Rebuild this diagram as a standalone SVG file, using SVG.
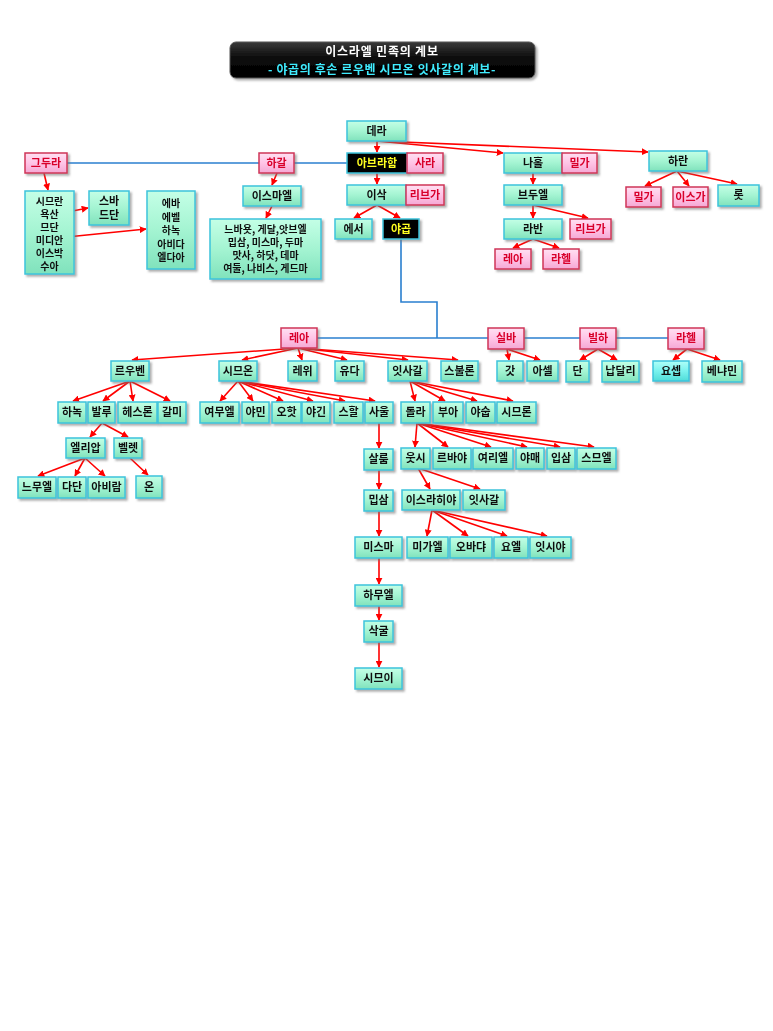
<svg xmlns="http://www.w3.org/2000/svg" width="773" height="1031" viewBox="0 0 773 1031">
<style>
text{font-family:"Noto Sans CJK KR","Noto Sans",sans-serif;font-weight:bold;font-size:11px;text-anchor:middle;fill:#111}
.m text{font-size:10px}
.g rect{fill:url(#gg);stroke:#3cc4dc;stroke-width:1.5}
.c rect{fill:url(#cg);stroke:#3cc4dc;stroke-width:1.5}
.p rect{fill:url(#pg);stroke:#d03458;stroke-width:1.5}
.p text{fill:#d8002c}
.k rect{fill:#000;stroke:#3cc4dc;stroke-width:1.5}
.k text{fill:#ffff20}
.n{filter:url(#sh)}
.r{stroke:#ff0000;stroke-width:1.6;fill:none;marker-end:url(#ah)}
.b{stroke:#2a7fcf;stroke-width:1.6;fill:none}
</style>
<defs>
<linearGradient id="gg" x1="0" y1="0" x2="0" y2="1"><stop offset="0" stop-color="#c4ffe6"/><stop offset="0.5" stop-color="#a4f4d2"/><stop offset="1" stop-color="#80e2bc"/></linearGradient>
<linearGradient id="cg" x1="0" y1="0" x2="0" y2="1"><stop offset="0" stop-color="#b0fff8"/><stop offset="0.5" stop-color="#7af2ee"/><stop offset="1" stop-color="#50dcd8"/></linearGradient>
<linearGradient id="pg" x1="0" y1="0" x2="0" y2="1"><stop offset="0" stop-color="#ffe0f2"/><stop offset="0.5" stop-color="#ffc4e6"/><stop offset="1" stop-color="#f4a8d4"/></linearGradient>
<linearGradient id="tg" x1="0" y1="0" x2="0" y2="1"><stop offset="0" stop-color="#3a3a3a"/><stop offset="0.45" stop-color="#0a0a0a"/><stop offset="1" stop-color="#000"/></linearGradient>
<filter id="sh" x="-20%" y="-20%" width="150%" height="160%"><feDropShadow dx="2" dy="2" stdDeviation="1" flood-color="#777" flood-opacity="0.6"/></filter>
<marker id="ah" viewBox="0 0 10 10" refX="9" refY="5" markerWidth="7" markerHeight="7" markerUnits="userSpaceOnUse" orient="auto"><path d="M0,0 L10,5 L0,10 z" fill="#ff0000"/></marker>
</defs>
<rect width="773" height="1031" fill="#fff"/>
<g id="title" filter="url(#sh)">
<rect x="230" y="42" width="305" height="36" rx="6" fill="url(#tg)" stroke="#555" stroke-width="1"/>
<text x="382" y="56" style="fill:#fff;font-size:12px;letter-spacing:0.8px">이스라엘 민족의 계보</text>
<text x="382" y="74" style="fill:#40ecff;font-size:12px;letter-spacing:0.6px">- 야곱의 후손 르우벤 시므온 잇사갈의 계보-</text>
</g>
<g id="connectors">
<line class="b" x1="67" y1="163" x2="347" y2="163"/>
<polyline class="b" points="401,239 401,302 437,302 437,338"/>
<line class="b" x1="317" y1="338" x2="668" y2="338"/>
<line class="r" x1="377" y1="141" x2="377" y2="152"/>
<line class="r" x1="377" y1="141" x2="503" y2="153"/>
<line class="r" x1="377" y1="141" x2="648" y2="152"/>
<line class="r" x1="377" y1="173" x2="377" y2="184"/>
<line class="r" x1="377" y1="205" x2="354" y2="218"/>
<line class="r" x1="377" y1="205" x2="400" y2="218"/>
<line class="r" x1="533" y1="173" x2="533" y2="184"/>
<line class="r" x1="533" y1="205" x2="533" y2="218"/>
<line class="r" x1="533" y1="205" x2="588" y2="218"/>
<line class="r" x1="533" y1="239" x2="513" y2="248"/>
<line class="r" x1="533" y1="239" x2="559" y2="248"/>
<line class="r" x1="677" y1="171" x2="645" y2="186"/>
<line class="r" x1="677" y1="171" x2="689" y2="186"/>
<line class="r" x1="677" y1="171" x2="737" y2="184"/>
<line class="r" x1="44" y1="173" x2="48" y2="190"/>
<line class="r" x1="62" y1="213" x2="88" y2="208"/>
<line class="r" x1="67" y1="237" x2="146" y2="229"/>
<line class="r" x1="277" y1="173" x2="272" y2="185"/>
<line class="r" x1="272" y1="206" x2="266" y2="218"/>
<line class="r" x1="298" y1="348" x2="132" y2="360"/>
<line class="r" x1="298" y1="348" x2="242" y2="360"/>
<line class="r" x1="298" y1="348" x2="302" y2="360"/>
<line class="r" x1="298" y1="348" x2="347" y2="360"/>
<line class="r" x1="298" y1="348" x2="408" y2="360"/>
<line class="r" x1="298" y1="348" x2="458" y2="360"/>
<line class="r" x1="507" y1="349" x2="509" y2="360"/>
<line class="r" x1="507" y1="349" x2="540" y2="360"/>
<line class="r" x1="598" y1="349" x2="580" y2="360"/>
<line class="r" x1="598" y1="349" x2="617" y2="360"/>
<line class="r" x1="687" y1="349" x2="673" y2="360"/>
<line class="r" x1="687" y1="349" x2="720" y2="360"/>
<line class="r" x1="130" y1="381" x2="73" y2="401"/>
<line class="r" x1="130" y1="381" x2="103" y2="401"/>
<line class="r" x1="130" y1="381" x2="133" y2="401"/>
<line class="r" x1="130" y1="381" x2="170" y2="401"/>
<line class="r" x1="102" y1="423" x2="90" y2="437"/>
<line class="r" x1="102" y1="423" x2="128" y2="437"/>
<line class="r" x1="85" y1="458" x2="38" y2="476"/>
<line class="r" x1="85" y1="458" x2="75" y2="476"/>
<line class="r" x1="85" y1="458" x2="105" y2="476"/>
<line class="r" x1="130" y1="458" x2="148" y2="475"/>
<line class="r" x1="238" y1="381" x2="220" y2="401"/>
<line class="r" x1="238" y1="381" x2="253" y2="401"/>
<line class="r" x1="238" y1="381" x2="283" y2="401"/>
<line class="r" x1="238" y1="381" x2="313" y2="401"/>
<line class="r" x1="238" y1="381" x2="345" y2="401"/>
<line class="r" x1="238" y1="381" x2="375" y2="401"/>
<line class="r" x1="379" y1="423" x2="379" y2="448"/>
<line class="r" x1="379" y1="470" x2="379" y2="489"/>
<line class="r" x1="379" y1="511" x2="379" y2="536"/>
<line class="r" x1="379" y1="558" x2="379" y2="584"/>
<line class="r" x1="379" y1="606" x2="379" y2="620"/>
<line class="r" x1="379" y1="642" x2="379" y2="667"/>
<line class="r" x1="410" y1="381" x2="415" y2="401"/>
<line class="r" x1="410" y1="381" x2="445" y2="401"/>
<line class="r" x1="410" y1="381" x2="477" y2="401"/>
<line class="r" x1="410" y1="381" x2="513" y2="401"/>
<line class="r" x1="417" y1="423" x2="415" y2="447"/>
<line class="r" x1="417" y1="423" x2="448" y2="447"/>
<line class="r" x1="417" y1="423" x2="491" y2="447"/>
<line class="r" x1="417" y1="423" x2="527" y2="447"/>
<line class="r" x1="417" y1="423" x2="560" y2="447"/>
<line class="r" x1="417" y1="423" x2="594" y2="447"/>
<line class="r" x1="418" y1="468" x2="430" y2="489"/>
<line class="r" x1="418" y1="468" x2="480" y2="489"/>
<line class="r" x1="432" y1="510" x2="427" y2="536"/>
<line class="r" x1="432" y1="510" x2="468" y2="536"/>
<line class="r" x1="432" y1="510" x2="507" y2="536"/>
<line class="r" x1="432" y1="510" x2="547" y2="536"/>
</g>
<g id="dera" class="n g"><rect x="347" y="121" width="59" height="20"/><text x="376.5" y="135">데라</text></g>
<g id="abraham" class="n k"><rect x="347" y="153" width="60" height="20"/><text x="377" y="167">아브라함</text></g>
<g id="sarah" class="n p"><rect x="407" y="153" width="36" height="20"/><text x="425" y="167">사라</text></g>
<g id="isaac" class="n g"><rect x="347" y="185" width="59" height="20"/><text x="376.5" y="199">이삭</text></g>
<g id="rebekah" class="n p"><rect x="406" y="185" width="38" height="20"/><text x="425" y="199">리브가</text></g>
<g id="esau" class="n g"><rect x="335" y="219" width="37" height="20"/><text x="353.5" y="233">에서</text></g>
<g id="jacob" class="n k"><rect x="383" y="219" width="36" height="20"/><text x="401" y="233">야곱</text></g>
<g id="nahor" class="n g"><rect x="504" y="153" width="58" height="20"/><text x="533" y="167">나홀</text></g>
<g id="milcah1" class="n p"><rect x="562" y="153" width="35" height="20"/><text x="579.5" y="167">밀가</text></g>
<g id="bethuel" class="n g"><rect x="504" y="185" width="58" height="20"/><text x="533" y="199">브두엘</text></g>
<g id="laban" class="n g"><rect x="504" y="219" width="58" height="20"/><text x="533" y="233">라반</text></g>
<g id="rebekah2" class="n p"><rect x="570" y="219" width="41" height="20"/><text x="590.5" y="233">리브가</text></g>
<g id="leah1" class="n p"><rect x="495" y="249" width="36" height="20"/><text x="513" y="263">레아</text></g>
<g id="rachel1" class="n p"><rect x="543" y="249" width="36" height="20"/><text x="561" y="263">라헬</text></g>
<g id="haran" class="n g"><rect x="649" y="151" width="58" height="20"/><text x="678" y="165">하란</text></g>
<g id="milcah2" class="n p"><rect x="626" y="187" width="35" height="20"/><text x="643.5" y="201">밀가</text></g>
<g id="iscah" class="n p"><rect x="673" y="187" width="35" height="20"/><text x="690.5" y="201">이스가</text></g>
<g id="lot" class="n g"><rect x="718" y="185" width="41" height="21"/><text x="738.5" y="199">롯</text></g>
<g id="keturah" class="n p"><rect x="25" y="153" width="42" height="20"/><text x="46" y="167">그두라</text></g>
<g id="hagar" class="n p"><rect x="259" y="153" width="35" height="20"/><text x="276.5" y="167">하갈</text></g>
<g id="keturahsons" class="n g m"><rect x="25" y="191" width="49" height="83"/><text x="49.5" y="205">시므란<tspan x="49.5" y="218">욕산</tspan><tspan x="49.5" y="231">므단</tspan><tspan x="49.5" y="244">미디안</tspan><tspan x="49.5" y="257">이스박</tspan><tspan x="49.5" y="270">수아</tspan></text></g>
<g id="sheba" class="n g"><rect x="89" y="191" width="40" height="34"/><text x="109" y="205">스바<tspan x="109" y="219">드단</tspan></text></g>
<g id="ephah" class="n g m"><rect x="147" y="191" width="48" height="78"/><text x="171" y="207">에바<tspan x="171" y="220.5">에벨</tspan><tspan x="171" y="234">하녹</tspan><tspan x="171" y="247.5">아비다</tspan><tspan x="171" y="261">엘다아</tspan></text></g>
<g id="ishmael" class="n g"><rect x="243" y="186" width="58" height="20"/><text x="272" y="200">이스마엘</text></g>
<g id="ishmaelsons" class="n g m"><rect x="210" y="219" width="111" height="60"/><text x="265.5" y="233">느바욧, 게달,앗브엘<tspan x="265.5" y="246">밉삼, 미스마, 두마</tspan><tspan x="265.5" y="259">맛사, 하닷, 데마</tspan><tspan x="265.5" y="272">여둘, 나비스, 게드마</tspan></text></g>
<g id="leah" class="n p"><rect x="281" y="328" width="36" height="20"/><text x="299" y="342">레아</text></g>
<g id="zilpah" class="n p"><rect x="488" y="328" width="36" height="21"/><text x="506" y="342">실바</text></g>
<g id="bilhah" class="n p"><rect x="580" y="328" width="36" height="21"/><text x="598" y="342">빌하</text></g>
<g id="rachel" class="n p"><rect x="668" y="328" width="36" height="21"/><text x="686" y="342">라헬</text></g>
<g id="reuben" class="n g"><rect x="111" y="361" width="38" height="20"/><text x="130" y="375">르우벤</text></g>
<g id="simeon" class="n g"><rect x="219" y="361" width="38" height="20"/><text x="238" y="375">시므온</text></g>
<g id="levi" class="n g"><rect x="288" y="361" width="29" height="20"/><text x="302.5" y="375">레위</text></g>
<g id="judah" class="n g"><rect x="335" y="361" width="29" height="20"/><text x="349.5" y="375">유다</text></g>
<g id="issachar" class="n g"><rect x="388" y="361" width="39" height="20"/><text x="407.5" y="375">잇사갈</text></g>
<g id="zebulun" class="n g"><rect x="441" y="361" width="37" height="20"/><text x="459.5" y="375">스불론</text></g>
<g id="gad" class="n g"><rect x="497" y="361" width="26" height="20"/><text x="510" y="375">갓</text></g>
<g id="asher" class="n g"><rect x="527" y="361" width="31" height="20"/><text x="542.5" y="375">아셀</text></g>
<g id="dan" class="n g"><rect x="566" y="361" width="23" height="21"/><text x="577.5" y="375">단</text></g>
<g id="naphtali" class="n g"><rect x="602" y="361" width="37" height="21"/><text x="620.5" y="375">납달리</text></g>
<g id="joseph" class="n c"><rect x="653" y="361" width="36" height="20"/><text x="671" y="375">요셉</text></g>
<g id="benjamin" class="n g"><rect x="702" y="361" width="40" height="21"/><text x="722" y="375">베냐민</text></g>
<g id="hanoch" class="n g"><rect x="58" y="402" width="28" height="21"/><text x="72" y="416">하녹</text></g>
<g id="pallu" class="n g"><rect x="88" y="402" width="27" height="21"/><text x="101.5" y="416">발루</text></g>
<g id="hezron" class="n g"><rect x="118" y="402" width="39" height="21"/><text x="137.5" y="416">헤스론</text></g>
<g id="carmi" class="n g"><rect x="158" y="402" width="28" height="21"/><text x="172" y="416">갈미</text></g>
<g id="jemuel" class="n g"><rect x="200" y="402" width="39" height="21"/><text x="219.5" y="416">여무엘</text></g>
<g id="jamin" class="n g"><rect x="242" y="402" width="27" height="21"/><text x="255.5" y="416">야민</text></g>
<g id="ohad" class="n g"><rect x="272" y="402" width="29" height="21"/><text x="286.5" y="416">오핫</text></g>
<g id="jachin" class="n g"><rect x="302" y="402" width="28" height="21"/><text x="316" y="416">야긴</text></g>
<g id="zohar" class="n g"><rect x="334" y="402" width="29" height="21"/><text x="348.5" y="416">스할</text></g>
<g id="shaul" class="n g"><rect x="365" y="402" width="28" height="21"/><text x="379" y="416">사울</text></g>
<g id="tola" class="n g"><rect x="401" y="402" width="29" height="21"/><text x="415.5" y="416">돌라</text></g>
<g id="puvah" class="n g"><rect x="433" y="402" width="30" height="21"/><text x="448" y="416">부아</text></g>
<g id="jashub" class="n g"><rect x="466" y="402" width="29" height="21"/><text x="480.5" y="416">야숩</text></g>
<g id="shimron" class="n g"><rect x="497" y="402" width="39" height="21"/><text x="516.5" y="416">시므론</text></g>
<g id="eliab" class="n g"><rect x="66" y="438" width="39" height="20"/><text x="85.5" y="452">엘리압</text></g>
<g id="peleth" class="n g"><rect x="114" y="438" width="28" height="20"/><text x="128" y="452">벨렛</text></g>
<g id="nemuel" class="n g"><rect x="18" y="477" width="38" height="21"/><text x="37" y="491">느무엘</text></g>
<g id="dathan" class="n g"><rect x="58" y="477" width="28" height="21"/><text x="72" y="491">다단</text></g>
<g id="abiram" class="n g"><rect x="88" y="477" width="37" height="21"/><text x="106.5" y="491">아비람</text></g>
<g id="on" class="n g"><rect x="136" y="476" width="26" height="22"/><text x="149" y="491">온</text></g>
<g id="shallum" class="n g"><rect x="364" y="449" width="29" height="21"/><text x="378.5" y="463">살룸</text></g>
<g id="uzzi" class="n g"><rect x="401" y="448" width="29" height="21"/><text x="415.5" y="462">웃시</text></g>
<g id="rephaiah" class="n g"><rect x="433" y="448" width="38" height="21"/><text x="452" y="462">르바야</text></g>
<g id="jeriel" class="n g"><rect x="473" y="448" width="40" height="21"/><text x="493" y="462">여리엘</text></g>
<g id="jahmai" class="n g"><rect x="516" y="448" width="28" height="21"/><text x="530" y="462">야매</text></g>
<g id="ibsam" class="n g"><rect x="547" y="448" width="28" height="21"/><text x="561" y="462">입삼</text></g>
<g id="shemuel" class="n g"><rect x="577" y="448" width="39" height="21"/><text x="596.5" y="462">스므엘</text></g>
<g id="mibsam" class="n g"><rect x="364" y="490" width="29" height="21"/><text x="378.5" y="504">밉삼</text></g>
<g id="izrahiah" class="n g"><rect x="402" y="490" width="58" height="20"/><text x="431" y="504">이스라히야</text></g>
<g id="issachar2" class="n g"><rect x="463" y="490" width="42" height="20"/><text x="484" y="504">잇사갈</text></g>
<g id="mishma" class="n g"><rect x="355" y="537" width="47" height="21"/><text x="378.5" y="551">미스마</text></g>
<g id="michael" class="n g"><rect x="407" y="537" width="41" height="21"/><text x="427.5" y="551">미가엘</text></g>
<g id="obadiah" class="n g"><rect x="450" y="537" width="42" height="21"/><text x="471" y="551">오바댜</text></g>
<g id="joel" class="n g"><rect x="494" y="537" width="34" height="21"/><text x="511" y="551">요엘</text></g>
<g id="ishiah" class="n g"><rect x="530" y="537" width="41" height="21"/><text x="550.5" y="551">잇시야</text></g>
<g id="hammuel" class="n g"><rect x="355" y="585" width="47" height="21"/><text x="378.5" y="599">하무엘</text></g>
<g id="zaccur" class="n g"><rect x="364" y="621" width="29" height="21"/><text x="378.5" y="635">삭굴</text></g>
<g id="shimei" class="n g"><rect x="355" y="668" width="47" height="21"/><text x="378.5" y="682">시므이</text></g>
</svg>
